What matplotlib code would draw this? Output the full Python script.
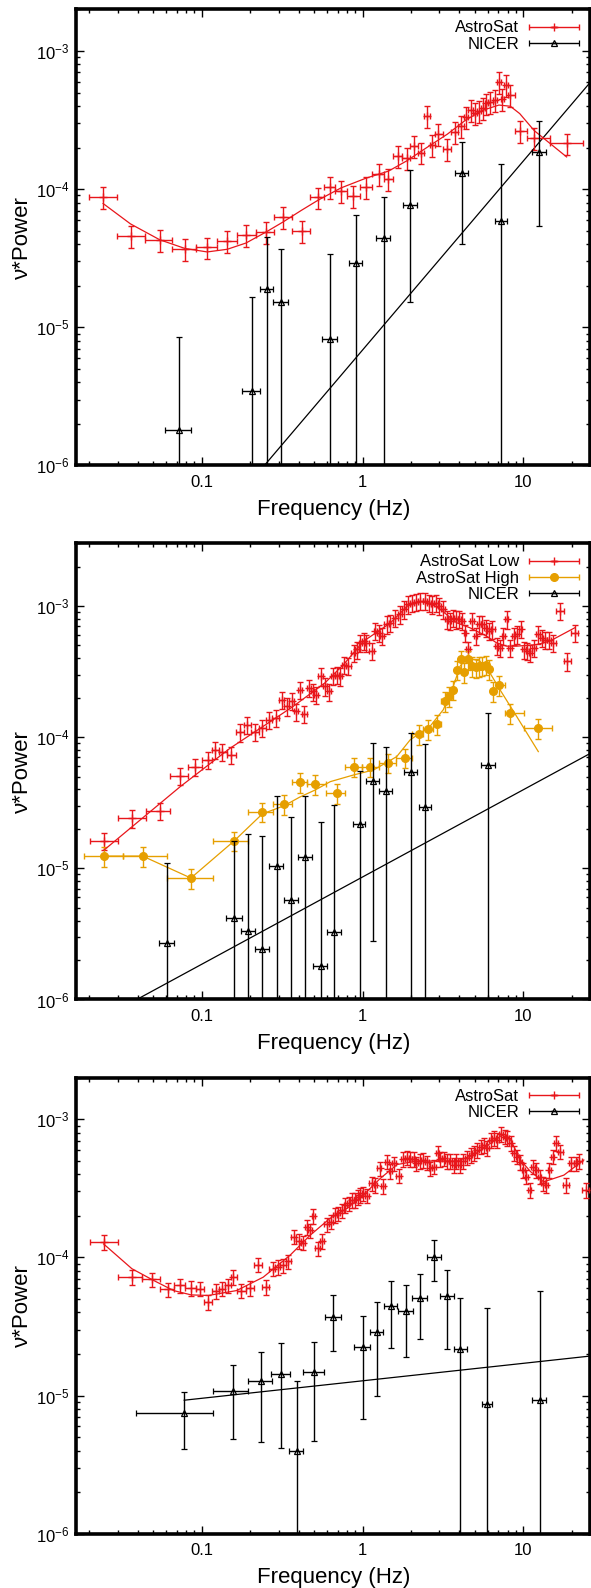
import numpy as np
import matplotlib
matplotlib.use("Agg")
import matplotlib.pyplot as plt
from matplotlib import ticker
from matplotlib.container import ErrorbarContainer
from matplotlib.legend_handler import HandlerErrorbar

plt.rcParams['font.family'] = ['Liberation Sans', 'DejaVu Sans']
plt.rcParams['mathtext.fontset'] = 'custom'
plt.rcParams['mathtext.rm'] = 'Liberation Sans'
plt.rcParams['mathtext.it'] = 'Liberation Sans:italic'

RED = '#e8161b'
ORANGE = '#e69f00'
BLACK = 'black'

# ---------------- panel 1 ----------------
p1_astro_f = [0.0243, 0.036, 0.0547, 0.0785, 0.108, 0.144, 0.188, 0.25, 0.319, 0.417,
              0.53, 0.624, 0.734, 0.877, 1.05, 1.26, 1.45, 1.67, 1.88, 2.1,
              2.31, 2.51, 2.72, 2.95, 3.37, 3.75, 4.11, 4.41, 4.7, 5.0,
              5.3, 5.6, 5.9, 6.2, 6.7, 7.05, 7.4, 7.85, 8.3, 9.5, 11.7, 18.6]
p1_astro_v = [8.8e-5, 4.6e-5, 4.3e-5, 3.67e-5, 3.78e-5, 4.2e-5, 4.65e-5, 4.9e-5, 6.3e-5, 5.0e-5,
              8.7e-5, 1.03e-4, 9.7e-5, 8.9e-5, 1.04e-4, 1.29e-4, 1.19e-4, 1.74e-4, 1.69e-4, 2.06e-4,
              1.84e-4, 3.37e-4, 2.09e-4, 2.51e-4, 1.95e-4, 2.58e-4, 2.88e-4, 3.33e-4, 3.72e-4, 3.56e-4,
              3.68e-4, 3.89e-4, 4.17e-4, 4.28e-4, 4.4e-4, 6.0e-4, 4.5e-4, 5.7e-4, 4.8e-4, 2.65e-4,
              2.34e-4, 2.14e-4]
p1_astro_err = 0.18
p1_model_f = [0.0243, 0.036, 0.0547, 0.0785, 0.108, 0.144, 0.188, 0.25, 0.319, 0.417, 0.53,
              0.734, 1.05, 1.45, 1.88, 2.51, 3.37, 4.41, 5.6, 7.05, 8.3, 9.5, 11.7, 18.6]
p1_model_v = [7.87e-5, 5.6e-5, 4.3e-5, 3.72e-5, 3.51e-5, 3.67e-5, 4.07e-5, 4.88e-5, 5.77e-5, 7.03e-5, 8.33e-5,
              1.02e-4, 1.2e-4, 1.35e-4, 1.6e-4, 2.0e-4, 2.5e-4, 3.18e-4, 3.72e-4, 4.06e-4, 3.98e-4, 3.52e-4,
              2.65e-4, 1.71e-4]
p1_nicer_f = [0.0724, 0.205, 0.254, 0.312, 0.624, 0.91, 1.35, 1.98, 4.16, 7.29, 12.6]
p1_nicer_v = [1.82e-6, 3.43e-6, 1.89e-5, 1.53e-5, 8.2e-6, 2.93e-5, 4.4e-5, 7.67e-5, 1.3e-4, 5.91e-5, 1.85e-4]
p1_nicer_hi = [8.45e-6, 1.67e-5, 4.48e-5, 3.67e-5, 3.37e-5, 6.45e-5, 8.8e-5, 1.38e-4, 2.21e-4, 1.52e-4, 3.13e-4]
p1_nicer_lo = [0, 0, 0, 0, 0, 0, 0, 1.53e-5, 3.99e-5, 0, 5.43e-5]
p1_nicer_dx = [0.0138, 0.026, 0.025, 0.034, 0.068, 0.087, 0.135, 0.2, 0.4, 0.63, 1.26]
p1_pl_f = [0.245, 26.0]
p1_pl_v = [1.0e-6, 5.9e-4]

# ---------------- panel 2 ----------------
p2_low_f = [0.0245, 0.0367, 0.0546, 0.0733, 0.091, 0.11, 0.121, 0.134, 0.152, 0.173,
            0.192, 0.214, 0.238, 0.262, 0.288, 0.314, 0.338, 0.362, 0.384, 0.408,
            0.435, 0.465, 0.494, 0.51, 0.548, 0.583, 0.618, 0.658, 0.697, 0.723,
            0.769, 0.807, 0.879, 0.922, 0.967, 1.014, 1.054, 1.143, 1.199, 1.257,
            1.318, 1.416, 1.485, 1.595, 1.713, 1.798, 1.904, 2.025, 2.153, 2.281,
            2.449, 2.594, 2.721, 2.869, 3.008, 3.186, 3.342, 3.504, 3.64, 3.82,
            4.005, 4.18, 4.34, 4.51, 4.78, 5.06, 5.31, 5.56, 5.83, 6.12,
            6.42, 6.83, 7.16, 7.51, 7.88, 8.26, 8.75, 9.09, 9.62, 10.09,
            10.59, 11.0, 11.65, 12.4, 13.1, 13.6, 14.4, 15.2, 16.9, 18.8, 20.9]
p2_low_v = [1.61e-5, 2.4e-5, 2.75e-5, 5.06e-5, 5.97e-5, 6.71e-5, 8.0e-5, 7.68e-5, 7.33e-5, 1.09e-4,
            1.24e-4, 1.1e-4, 1.17e-4, 1.36e-4, 1.4e-4, 1.93e-4, 1.72e-4, 1.88e-4, 1.57e-4, 2.28e-4,
            1.51e-4, 2.37e-4, 2.23e-4, 2.11e-4, 2.91e-4, 2.44e-4, 2.23e-4, 2.95e-4, 3.0e-4, 2.91e-4,
            3.58e-4, 3.48e-4, 4.39e-4, 4.66e-4, 5.23e-4, 5.39e-4, 5.23e-4, 4.53e-4, 6.44e-4, 6.25e-4,
            5.89e-4, 7.24e-4, 7.45e-4, 8.15e-4, 8.63e-4, 9.43e-4, 1.03e-3, 1.06e-3, 1.07e-3, 1.09e-3,
            1.09e-3, 1.06e-3, 1.03e-3, 1.06e-3, 1.0e-3, 9.43e-4, 7.91e-4, 7.68e-4, 8.15e-4, 7.91e-4,
            8.0e-4, 7.68e-4, 6.25e-4, 4.66e-4, 7.68e-4, 5.89e-4, 7.24e-4, 7.24e-4, 6.82e-4, 6.44e-4,
            6.63e-4, 4.94e-4, 4.81e-4, 5.89e-4, 7.91e-4, 4.81e-4, 5.89e-4, 6.07e-4, 6.7e-4, 4.66e-4,
            4.53e-4, 4.39e-4, 4.81e-4, 6.07e-4, 5.7e-4, 5.55e-4, 5.55e-4, 5.23e-4, 9.15e-4, 3.79e-4, 6.25e-4]
p2_low_err = 0.15
p2_low_model_f = [0.0245, 0.0733, 0.15, 0.241, 0.371, 0.583, 0.762, 1.014, 1.485, 1.9, 2.28,
                  2.63, 3.04, 3.85, 4.66, 5.91, 6.81, 7.87, 9.09, 12.1, 14.6, 20.9]
p2_low_model_v = [1.37e-5, 4.19e-5, 8.24e-5, 1.21e-4, 1.72e-4, 2.59e-4, 3.58e-4, 5.39e-4, 7.4e-4, 1.0e-3, 1.08e-3,
                  1.05e-3, 9.43e-4, 7.45e-4, 6.82e-4, 5.89e-4, 5.24e-4, 4.94e-4, 4.94e-4, 5.08e-4, 5.39e-4, 6.82e-4]
p2_high_f = [0.0245, 0.0428, 0.0855, 0.159, 0.238, 0.325, 0.408, 0.506, 0.69, 0.879,
             1.105, 1.43, 1.84, 2.23, 2.55, 2.92, 3.26, 3.47, 3.67, 3.85,
             4.08, 4.28, 4.51, 4.78, 5.06, 5.3, 5.56, 5.83, 6.12, 6.51, 7.1, 8.26, 12.4]
p2_high_v = [1.24e-5, 1.24e-5, 8.43e-6, 1.62e-5, 2.7e-5, 3.07e-5, 4.53e-5, 4.37e-5, 3.73e-5, 5.97e-5,
             5.97e-5, 6.4e-5, 6.98e-5, 1.05e-4, 1.15e-4, 1.26e-4, 1.88e-4, 2.05e-4, 2.3e-4, 3.27e-4,
             3.91e-4, 3.13e-4, 3.91e-4, 3.47e-4, 3.4e-4, 3.47e-4, 3.5e-4, 3.58e-4, 3.31e-4, 2.24e-4,
             2.48e-4, 1.53e-4, 1.17e-4]
p2_high_err = 0.17
p2_high_model_f = [0.0245, 0.0428, 0.0855, 0.159, 0.238, 0.325, 0.408, 0.506, 0.63, 0.879, 1.17, 1.63,
                   1.98, 2.63, 3.18, 3.67, 4.04, 4.45, 5.37, 6.2, 7.16, 9.09, 12.4]
p2_high_model_v = [1.24e-5, 1.24e-5, 8.43e-6, 1.62e-5, 2.6e-5, 3.0e-5, 3.5e-5, 3.95e-5, 4.58e-5, 5.15e-5, 5.62e-5, 7.1e-5,
                   9.55e-5, 1.21e-4, 1.62e-4, 2.45e-4, 3.47e-4, 4.03e-4, 3.8e-4, 3.09e-4, 2.3e-4, 1.44e-4, 7.76e-5]
p2_nicer_f = [0.0607, 0.159, 0.195, 0.238, 0.292, 0.359, 0.438, 0.548, 0.664, 0.958, 1.154, 1.396, 2.0, 2.45, 6.06]
p2_nicer_v = [2.7e-6, 4.17e-6, 3.31e-6, 2.43e-6, 1.04e-5, 5.75e-6, 1.22e-5, 1.81e-6, 3.26e-6, 2.16e-5,
              4.66e-5, 3.91e-5, 5.4e-5, 2.94e-5, 6.14e-5]
p2_nicer_hi = [1.1e-5, 1.62e-5, 1.84e-5, 1.76e-5, 3.58e-5, 2.47e-5, 3.58e-5, 2.26e-5, 3.03e-5, 5.5e-5,
               9.0e-5, 8.4e-5, 1.07e-4, 8.9e-5, 1.53e-4]
p2_nicer_lo = [0, 0, 0, 0, 0, 0, 0, 0, 0, 0, 2.8e-6, 0, 0, 0, 0]
p2_nicer_dx = [0.0063, 0.018, 0.019, 0.024, 0.029, 0.036, 0.044, 0.055, 0.066, 0.082, 0.11, 0.134, 0.18, 0.22, 0.58]
p2_pl_f = [0.0394, 26.0]
p2_pl_v = [1.0e-6, 7.5e-5]

# ---------------- panel 3 ----------------
p3_astro_f = [0.0245, 0.0367, 0.049, 0.0613, 0.0727, 0.0859, 0.0977, 0.11, 0.123, 0.134,
              0.146, 0.156, 0.175, 0.2, 0.225, 0.25, 0.276, 0.297, 0.319, 0.345,
              0.374, 0.402, 0.424, 0.449, 0.471, 0.494, 0.525, 0.556, 0.598, 0.633,
              0.675, 0.708, 0.743, 0.78, 0.818, 0.858, 0.9, 0.931, 0.967, 1.01,
              1.064, 1.143, 1.2, 1.276, 1.333, 1.418, 1.488, 1.56, 1.677, 1.785,
              1.89, 1.98, 2.08, 2.16, 2.27, 2.38, 2.52, 2.64, 2.77, 2.94,
              3.05, 3.2, 3.36, 3.52, 3.69, 3.84, 4.03, 4.22, 4.48, 4.7,
              4.92, 5.16, 5.42, 5.69, 5.96, 6.26, 6.56, 6.88, 7.29, 7.65,
              7.94, 8.34, 8.75, 9.18, 9.53, 10.0, 10.4, 10.96, 11.5, 12.06,
              12.65, 13.27, 13.9, 14.45, 15.2, 16.07, 16.9, 18.4, 19.9, 21.2, 22.2, 24.5]
p3_astro_v = [1.29e-4, 7.19e-5, 6.92e-5, 5.86e-5, 6.27e-5, 5.99e-5, 5.92e-5, 4.74e-5, 5.69e-5, 5.92e-5,
              6.27e-5, 7.19e-5, 5.75e-5, 5.99e-5, 8.85e-5, 6.1e-5, 8.28e-5, 8.51e-5, 8.75e-5, 9.35e-5,
              1.41e-4, 1.31e-4, 1.28e-4, 1.66e-4, 1.57e-4, 1.99e-4, 1.16e-4, 1.31e-4, 1.73e-4, 1.81e-4,
              2.02e-4, 2.08e-4, 2.19e-4, 2.39e-4, 2.46e-4, 2.6e-4, 2.6e-4, 2.74e-4, 2.82e-4, 2.9e-4,
              2.79e-4, 3.43e-4, 3.33e-4, 4.41e-4, 3.28e-4, 4.92e-4, 4.22e-4, 4.79e-4, 3.9e-4, 5.15e-4,
              5.27e-4, 5.15e-4, 5.15e-4, 4.79e-4, 4.98e-4, 5.06e-4, 4.87e-4, 4.41e-4, 4.53e-4, 5.67e-4,
              5.15e-4, 5.2e-4, 4.98e-4, 4.98e-4, 4.66e-4, 4.98e-4, 4.66e-4, 4.98e-4, 5.27e-4, 5.51e-4,
              5.67e-4, 5.99e-4, 6.33e-4, 6.51e-4, 6.16e-4, 7.08e-4, 7.28e-4, 7.08e-4, 7.82e-4, 7.48e-4,
              7.28e-4, 6.7e-4, 5.67e-4, 5.35e-4, 4.88e-4, 4.29e-4, 3.84e-4, 3.07e-4, 4.53e-4, 4.29e-4,
              3.84e-4, 3.43e-4, 3.33e-4, 4.29e-4, 5.35e-4, 6.7e-4, 5.82e-4, 3.33e-4, 4.79e-4, 4.79e-4, 4.98e-4, 3.07e-4]
p3_astro_err = 0.12
p3_model_f = [0.0245, 0.0367, 0.0501, 0.0667, 0.0859, 0.11, 0.1645, 0.241, 0.355, 0.47, 0.625, 0.8,
              1.01, 1.29, 1.64, 2.18, 2.9, 3.87, 4.92, 6.26, 7.39, 8.34, 9.6, 11.1, 13.4, 17.9, 23.8]
p3_model_v = [1.25e-4, 8.28e-5, 6.81e-5, 5.75e-5, 5.35e-5, 5.3e-5, 5.75e-5, 7.19e-5, 1.04e-4, 1.44e-4, 1.91e-4, 2.26e-4,
              2.82e-4, 3.73e-4, 4.7e-4, 4.98e-4, 4.98e-4, 4.98e-4, 5.51e-4, 6.7e-4, 7.69e-4, 7.08e-4, 5.07e-4, 4.17e-4,
              3.52e-4, 3.94e-4, 5.07e-4]
p3_nicer_f = [0.0777, 0.156, 0.2325, 0.311, 0.389, 0.501, 0.658, 1.0, 1.23, 1.5, 1.86, 2.27, 2.8, 3.36, 4.06, 5.96, 12.65]
p3_nicer_v = [7.45e-6, 1.08e-5, 1.28e-5, 1.43e-5, 3.96e-6, 1.47e-5, 3.73e-5, 2.23e-5, 2.9e-5, 4.48e-5,
              4.12e-5, 5.1e-5, 1.0e-4, 5.21e-5, 2.17e-5, 8.75e-6, 9.25e-6]
p3_nicer_hi = [1.06e-5, 1.66e-5, 2.05e-5, 2.4e-5, 1.28e-5, 2.45e-5, 5.36e-5, 3.75e-5, 4.79e-5, 6.7e-5,
               6.33e-5, 7.6e-5, 1.33e-4, 8.13e-5, 5.07e-5, 4.28e-5, 5.75e-5]
p3_nicer_lo = [4.07e-6, 4.88e-6, 4.6e-6, 4.19e-6, 0, 4.67e-6, 2.11e-5, 6.73e-6, 1e-5, 2.19e-5,
               1.89e-5, 2.56e-5, 6.7e-5, 2.17e-5, 0, 0, 0]
p3_nicer_dx = [0.039, 0.039, 0.039, 0.041, 0.038, 0.077, 0.078, 0.117, 0.113, 0.136,
               0.19, 0.23, 0.27, 0.32, 0.375, 0.43, 1.25]
p3_pl_f = [0.0777, 26.0]
p3_pl_v = [9.25e-6, 1.93e-5]

XLIM = (0.0166, 26.0)


def bin_halfwidths(f):
    # frequency bins run half way (in log) to the neighbouring bins
    f = np.asarray(f, dtype=float)
    lf = np.log10(f)
    mid = (lf[1:] + lf[:-1]) / 2
    lo = np.concatenate([[2 * lf[0] - mid[0]], mid])
    hi = np.concatenate([mid, [2 * lf[-1] - mid[-1]]])
    return f - 10 ** lo, 10 ** hi - f


def plot_astro(ax, f, v, frac, color, fmt, ms, fit_f, fit_v):
    v = np.asarray(v)
    dlo, dhi = bin_halfwidths(f)
    h = ax.errorbar(f, v, xerr=[dlo, dhi], yerr=frac * v, fmt=fmt, color=color, ms=ms,
                    elinewidth=1.0, capsize=2.4, capthick=1.0, zorder=3)
    ax.plot(fit_f, fit_v, color=color, lw=0.9, zorder=4)
    return h


def plot_nicer(ax, f, v, lo, hi, dx, pl_f, pl_v):
    v = np.asarray(v)
    yerr = [v - np.asarray(lo), np.asarray(hi) - v]
    h = ax.errorbar(f, v, xerr=dx, yerr=yerr, fmt='^', color=BLACK, mfc='none', ms=5, mew=0.9,
                    elinewidth=1.0, capsize=2.4, capthick=1.0, zorder=5)
    ax.plot(pl_f, pl_v, color=BLACK, lw=0.9, zorder=2)
    return h


def style_axes(ax, ymax):
    ax.set_xscale('log')
    ax.set_yscale('log', nonpositive='clip')
    ax.set_xlim(*XLIM)
    ax.set_ylim(1e-6, ymax)
    for s in ax.spines.values():
        s.set_linewidth(2.6)
    ax.tick_params(which='both', direction='in', top=True, right=True, labelsize=12)
    ax.tick_params(which='major', length=6, width=1.0)
    ax.tick_params(which='minor', length=3, width=1.0)
    ax.tick_params(axis='x', pad=7)
    ax.tick_params(axis='y', pad=5)
    ax.xaxis.set_major_formatter(ticker.FuncFormatter(lambda x, p: f'{x:g}'))
    ax.xaxis.set_minor_formatter(ticker.NullFormatter())
    ax.yaxis.set_major_locator(ticker.LogLocator(base=10, numticks=10))
    ax.yaxis.set_minor_locator(ticker.LogLocator(base=10, subs=np.arange(2, 10), numticks=20))
    ax.yaxis.set_minor_formatter(ticker.NullFormatter())
    ax.set_xlabel('Frequency (Hz)', fontsize=16)
    ax.set_ylabel('ν*Power', fontsize=16)
    ax.xaxis.set_label_coords(0.5, -0.073)
    ax.yaxis.set_label_coords(-0.085, 0.5)


def add_legend(ax, handles, labels):
    ax.legend(handles, labels, loc='upper right', frameon=False, markerfirst=False,
              fontsize=12, handlelength=3.0, handletextpad=0.6, labelspacing=0.08,
              borderpad=0.3, borderaxespad=0.36,
              handler_map={ErrorbarContainer: HandlerErrorbar(xerr_size=1.5, yerr_size=0)})


fig = plt.figure(figsize=(5.91, 15.88), dpi=100)
W = 0.8689
H = 0.2872
ax1 = fig.add_axes([0.1294, 0.7069, W, H])
ax2 = fig.add_axes([0.1294, 0.3706, W, H])
ax3 = fig.add_axes([0.1294, 0.0342, W, H])

h_a = plot_astro(ax1, p1_astro_f, p1_astro_v, p1_astro_err, RED, '+', 6, p1_model_f, p1_model_v)
h_n = plot_nicer(ax1, p1_nicer_f, p1_nicer_v, p1_nicer_lo, p1_nicer_hi, p1_nicer_dx, p1_pl_f, p1_pl_v)
style_axes(ax1, 2e-3)
add_legend(ax1, [h_a, h_n], ['AstroSat', 'NICER'])

h_l = plot_astro(ax2, p2_low_f, p2_low_v, p2_low_err, RED, '+', 6, p2_low_model_f, p2_low_model_v)
h_h = plot_astro(ax2, p2_high_f, p2_high_v, p2_high_err, ORANGE, 'o', 5.5, p2_high_model_f, p2_high_model_v)
h_n = plot_nicer(ax2, p2_nicer_f, p2_nicer_v, p2_nicer_lo, p2_nicer_hi, p2_nicer_dx, p2_pl_f, p2_pl_v)
style_axes(ax2, 3e-3)
add_legend(ax2, [h_l, h_h, h_n], ['AstroSat Low', 'AstroSat High', 'NICER'])

h_a = plot_astro(ax3, p3_astro_f, p3_astro_v, p3_astro_err, RED, '+', 6, p3_model_f, p3_model_v)
h_n = plot_nicer(ax3, p3_nicer_f, p3_nicer_v, p3_nicer_lo, p3_nicer_hi, p3_nicer_dx, p3_pl_f, p3_pl_v)
style_axes(ax3, 2e-3)
add_legend(ax3, [h_a, h_n], ['AstroSat', 'NICER'])

fig.savefig('out.png', dpi=100)
